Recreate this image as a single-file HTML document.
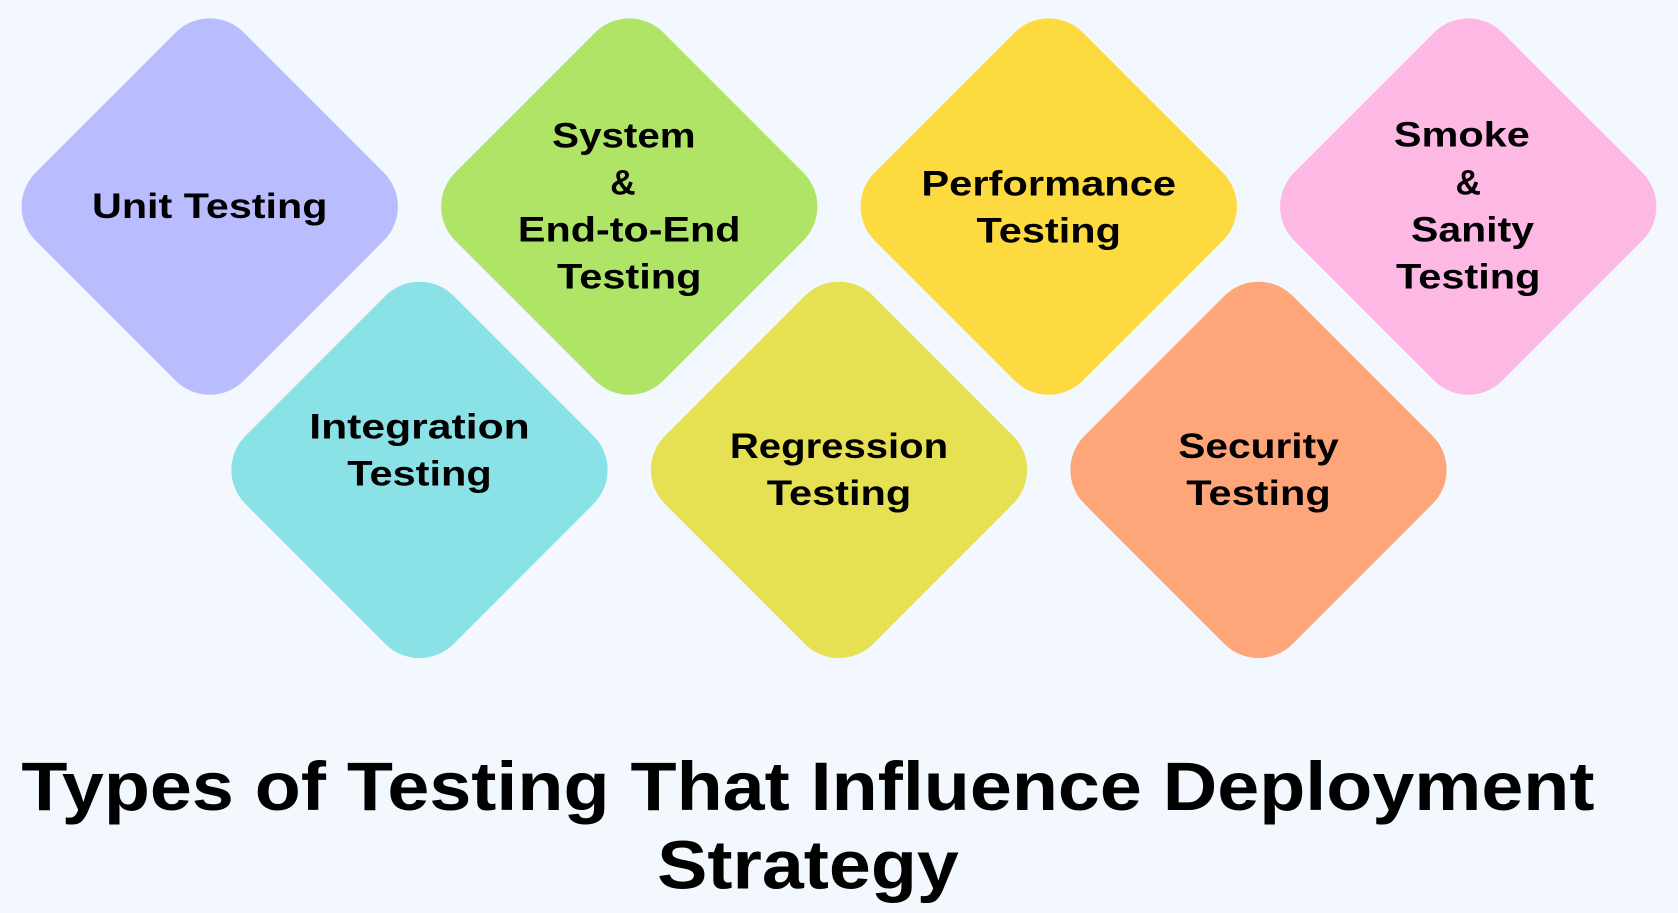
<!DOCTYPE html>
<html><head><meta charset="utf-8"><style>
html,body{margin:0;padding:0;background:#f3f8fe;}
svg{display:block}
text{font-family:"Liberation Sans",sans-serif;font-weight:bold;fill:#000;text-anchor:middle;dominant-baseline:central}
</style></head><body>
<svg width="1678" height="913" viewBox="0 0 1568 853" preserveAspectRatio="none">
<rect width="1568" height="853" fill="#f3f8fe"/>
<defs><rect id="d" x="-137.5" y="-137.5" width="275" height="275" rx="45" transform="rotate(45)"/></defs>
<use href="#d" transform="translate(196,193)" fill="#babdfd"/>
<use href="#d" transform="translate(588,193)" fill="#b0e467"/>
<use href="#d" transform="translate(980,193)" fill="#fdda40"/>
<use href="#d" transform="translate(1372,193)" fill="#feb8e4"/>
<use href="#d" transform="translate(392,439)" fill="#8ae2e7"/>
<use href="#d" transform="translate(784,439)" fill="#e6e053"/>
<use href="#d" transform="translate(1176,439)" fill="#fea679"/>
<g font-size="33">
<text x="196" y="193" textLength="220" lengthAdjust="spacingAndGlyphs">Unit Testing</text>
<text x="583" y="127" textLength="134" lengthAdjust="spacingAndGlyphs">System</text>
<text x="582" y="171">&amp;</text>
<text x="588" y="215" textLength="208" lengthAdjust="spacingAndGlyphs">End-to-End</text>
<text x="588" y="259" textLength="135" lengthAdjust="spacingAndGlyphs">Testing</text>
<text x="980" y="172" textLength="238" lengthAdjust="spacingAndGlyphs">Performance</text>
<text x="980" y="216" textLength="135" lengthAdjust="spacingAndGlyphs">Testing</text>
<text x="1366" y="126" textLength="127" lengthAdjust="spacingAndGlyphs">Smoke</text>
<text x="1372" y="171">&amp;</text>
<text x="1376" y="215" textLength="115" lengthAdjust="spacingAndGlyphs">Sanity</text>
<text x="1372" y="259" textLength="135" lengthAdjust="spacingAndGlyphs">Testing</text>
<text x="392" y="399" textLength="206" lengthAdjust="spacingAndGlyphs">Integration</text>
<text x="392" y="443" textLength="135" lengthAdjust="spacingAndGlyphs">Testing</text>
<text x="784" y="417" textLength="204" lengthAdjust="spacingAndGlyphs">Regression</text>
<text x="784" y="461" textLength="135" lengthAdjust="spacingAndGlyphs">Testing</text>
<text x="1176" y="417" textLength="150" lengthAdjust="spacingAndGlyphs">Security</text>
<text x="1176" y="461" textLength="135" lengthAdjust="spacingAndGlyphs">Testing</text>
</g>
<g font-size="64">
<text x="755" y="735" textLength="1470" lengthAdjust="spacingAndGlyphs">Types of Testing That Influence Deployment</text>
<text x="755" y="808" textLength="282" lengthAdjust="spacingAndGlyphs">Strategy</text>
</g>
</svg>
</body></html>
